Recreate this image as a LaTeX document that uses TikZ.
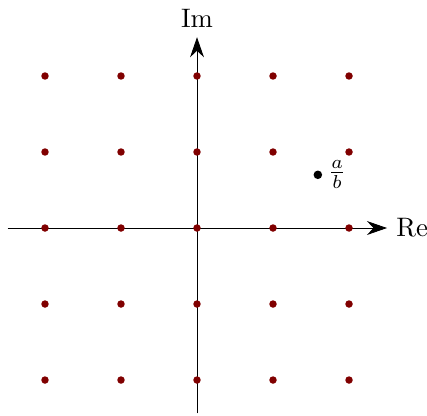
\documentclass[tikz,border=0pt]{standalone}
\usepackage{amsmath,amssymb}
\usepackage{tikz}
\usetikzlibrary{arrows.meta,positioning}
\usepackage{xcolor}

\begin{document}
\begin{tikzpicture}[
    lattice/.style={circle, fill=red!50!black, inner sep=0pt, minimum size=2.8pt},
    quot/.style={circle, fill=black, inner sep=0pt, minimum size=3.2pt},
    axis/.style={line width=0.3pt},
    >={Stealth[length=7.5pt,width=5.2pt]}
]
    \useasboundingbox (-2.592,-2.461) rectangle (3.026,3.0);
    % Axes
    \coordinate (xmin) at (-2.49,0);
    \coordinate (xmax) at (2.5,0);
    \coordinate (ymin) at (0,-2.44);
    \coordinate (ymax) at (0,2.51);
    \draw[axis, ->] (xmin) -- (xmax);
    \draw[axis, ->] (ymin) -- (ymax);
    \node[right] (re) at (xmax) {Re};
    \node[above] (im) at (ymax) {Im};

    % Lattice points
    \foreach \i in {-2,...,2}
        \foreach \j in {-2,...,2}
            \node[lattice] (p\i\j) at (\i,\j) {};

    % The quotient
    \node[quot] (ab) at (1.59,0.70) {};
    \node[right=-1.5pt of ab] (abl) {$\frac{a}{b}$};
\end{tikzpicture}
\end{document}
